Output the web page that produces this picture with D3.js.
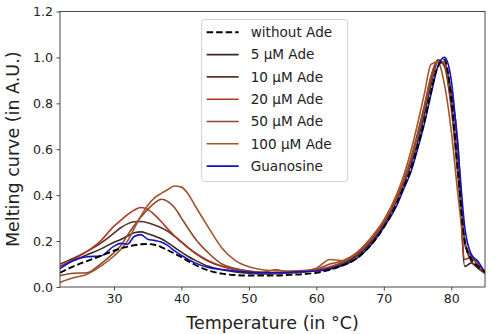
<!DOCTYPE html>
<html>
<head>
<meta charset="utf-8">
<script src="https://cdn.jsdelivr.net/npm/d3@7"></script>
<style>
  body { margin: 0; background: #fff; }
  text { font-family: "DejaVu Sans", sans-serif; fill: #222; }
</style>
</head>
<body>
<div id="chart"></div>
<script>
// temperature grid shared by all curves
var temps = [22,24,26,28,30,31,32,33,34,35,36,37,38,39,40,41,42,44,46,48,50,52,54,56,58,60,62,64,66,68,70,72,73,74,75,76,77,78,79,80,81,82,83,84,85];

var noAde  = [0.062,0.09,0.113,0.135,0.158,0.168,0.176,0.182,0.186,0.187,0.184,0.174,0.16,0.145,0.13,0.112,0.097,0.072,0.058,0.052,0.05,0.05,0.05,0.053,0.056,0.062,0.075,0.095,0.125,0.18,0.26,0.37,0.44,0.51,0.61,0.72,0.85,0.96,0.99,0.82,0.5,0.2,0.12,0.09,0.065];
var ade5   = [0.09,0.115,0.14,0.165,0.195,0.207,0.222,0.236,0.24,0.232,0.222,0.21,0.192,0.172,0.152,0.133,0.117,0.09,0.075,0.066,0.06,0.057,0.058,0.062,0.066,0.072,0.082,0.1,0.135,0.19,0.27,0.38,0.45,0.53,0.63,0.75,0.88,0.98,0.97,0.85,0.62,0.09,0.105,0.08,0.06];
var ade10  = [0.1,0.125,0.155,0.19,0.235,0.258,0.275,0.284,0.285,0.28,0.27,0.258,0.242,0.22,0.195,0.17,0.148,0.112,0.09,0.077,0.068,0.062,0.06,0.062,0.066,0.073,0.085,0.105,0.14,0.2,0.28,0.39,0.46,0.55,0.66,0.78,0.91,0.99,0.96,0.78,0.48,0.2,0.11,0.085,0.06];
var ade20  = [0.09,0.12,0.155,0.2,0.265,0.29,0.315,0.335,0.346,0.338,0.315,0.285,0.252,0.222,0.197,0.172,0.15,0.115,0.09,0.075,0.065,0.06,0.06,0.062,0.067,0.075,0.088,0.11,0.145,0.2,0.28,0.39,0.46,0.55,0.66,0.78,0.9,0.98,0.98,0.82,0.52,0.12,0.13,0.09,0.06];
var ade50  = [0.05,0.06,0.062,0.1,0.15,0.18,0.225,0.268,0.305,0.338,0.365,0.382,0.372,0.345,0.3,0.255,0.212,0.148,0.1,0.08,0.07,0.065,0.075,0.065,0.068,0.078,0.1,0.115,0.15,0.21,0.29,0.4,0.47,0.56,0.67,0.79,0.92,0.99,0.97,0.8,0.5,0.2,0.13,0.1,0.065];
var ade100 = [0.02,0.04,0.056,0.09,0.135,0.163,0.2,0.255,0.31,0.355,0.388,0.408,0.425,0.44,0.435,0.405,0.355,0.26,0.17,0.115,0.088,0.075,0.07,0.07,0.072,0.082,0.12,0.115,0.15,0.21,0.29,0.41,0.49,0.59,0.71,0.84,0.97,0.98,0.88,0.68,0.4,0.18,0.14,0.1,0.065];
var guano  = [0.08,0.115,0.132,0.135,0.178,0.19,0.186,0.22,0.228,0.208,0.203,0.196,0.18,0.157,0.138,0.12,0.105,0.085,0.076,0.07,0.065,0.062,0.062,0.064,0.067,0.07,0.078,0.095,0.125,0.18,0.26,0.36,0.43,0.5,0.6,0.71,0.84,0.96,1.0,0.9,0.6,0.26,0.14,0.11,0.06];

var labels = ["without Ade","5 \u00b5M Ade","10 \u00b5M Ade","20 \u00b5M Ade","50 \u00b5M Ade","100 \u00b5M Ade","Guanosine"];
var colors = ["#000000","#3b2a24","#5c3222","#b0382a","#8d4a2c","#a3562c","#1010cc"];
var xTicks = [30,40,50,60,70,80];
var yTicks = [0.0,0.2,0.4,0.6,0.8,1.0,1.2];

var series = [noAde, ade5, ade10, ade20, ade50, ade100, guano];

var W = 499, H = 334;
var margin = { top: 11.5, left: 60, right: 14, bottom: 47 };
var width = W - margin.left - margin.right,
    height = H - margin.top - margin.bottom;

var svg = d3.select("#chart").append("svg")
    .attr("width", W).attr("height", H)
  .append("g")
    .attr("transform", "translate(" + margin.left + "," + margin.top + ")");

var x = d3.scaleLinear().domain([22, 85]).range([0, width]);
var y = d3.scaleLinear().domain([0, 1.2]).range([height, 0]);

var line = d3.line()
    .x(function(d) { return x(d[0]); })
    .y(function(d) { return y(d[1]); })
    .curve(d3.curveMonotoneX);

svg.append("defs").append("clipPath").attr("id", "clip")
  .append("rect").attr("width", width).attr("height", height);

var plot = svg.append("g").attr("clip-path", "url(#clip)");

// draw solid curves first, dashed on top of them like the original
var order = [1,2,3,4,5,6,0];
order.forEach(function(i) {
  plot.append("path")
    .datum(temps.map(function(t, k) { return [t, series[i][k]]; }))
    .attr("fill", "none")
    .attr("stroke", colors[i])
    .attr("stroke-width", i === 0 ? 1.9 : 1.6)
    .attr("stroke-dasharray", i === 0 ? "6.5,3" : null)
    .attr("d", line);
});

// axes
var xAxis = svg.append("g")
    .attr("transform", "translate(0," + height + ")")
    .call(d3.axisBottom(x).tickValues(xTicks).tickSize(3.5).tickPadding(3.5));
var yAxis = svg.append("g")
    .call(d3.axisLeft(y).tickValues(yTicks).tickSize(3.5).tickPadding(3.5).tickFormat(d3.format(".1f")));

[xAxis, yAxis].forEach(function(a) {
  a.select(".domain").remove();
  a.selectAll("line").attr("stroke", "#333").attr("stroke-width", 0.9);
  a.selectAll("text").style("font-family", "DejaVu Sans").style("font-size", "12.6px").attr("fill", "#222");
});

svg.append("rect")
    .attr("width", width).attr("height", height)
    .attr("fill", "none").attr("stroke", "#333").attr("stroke-width", 0.9);

svg.append("text")
    .attr("x", width / 2).attr("y", height + 42)
    .attr("text-anchor", "middle")
    .style("font-size", "17.5px")
    .text("Temperature (in \u00b0C)");

svg.append("text")
    .attr("transform", "translate(" + (-41) + "," + (height / 2) + ") rotate(-90)")
    .attr("text-anchor", "middle")
    .style("font-size", "17.5px")
    .text("Melting curve (in A.U.)");

// legend
var lg = svg.append("g").attr("transform", "translate(" + x(43.0) + ",8)");
lg.append("rect")
    .attr("x", 0).attr("y", 0)
    .attr("width", 146).attr("height", 162)
    .attr("rx", 3)
    .attr("fill", "#fff").attr("fill-opacity", 0.8)
    .attr("stroke", "#d0d0d0");

labels.forEach(function(lbl, i) {
  var yy = 12.8 + i * 22.3;
  lg.append("line")
    .attr("x1", 5).attr("x2", 37)
    .attr("y1", yy).attr("y2", yy)
    .attr("stroke", colors[i])
    .attr("stroke-width", i === 0 ? 1.9 : 1.6)
    .attr("stroke-dasharray", i === 0 ? "6.5,3" : null);
  lg.append("text")
    .attr("x", 49).attr("y", yy + 4.8)
    .style("font-size", "13.6px")
    .text(lbl);
});
</script>
</body>
</html>
